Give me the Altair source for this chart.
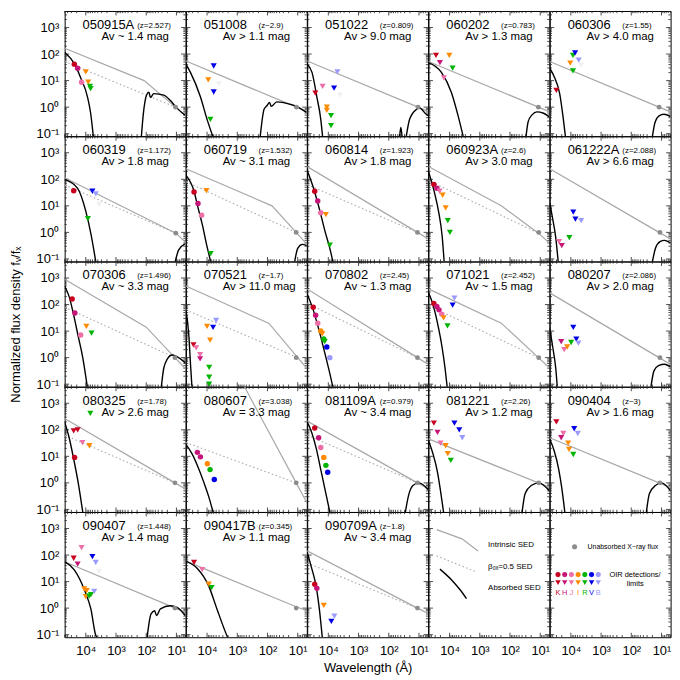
import altair as alt
import pandas as pd

FONT = "Liberation Sans"

NAMES = ["050915A", "051008", "051022", "060202", "060306",
         "060319", "060719", "060814", "060923A", "061222A",
         "070306", "070521", "070802", "071021", "080207",
         "080325", "080607", "081109A", "081221", "090404",
         "090407", "090417B", "090709A"]
ZTXT = ["(z=2.527)", "(z~2.9)", "(z=0.809)", "(z=0.783)", "(z=1.55)",
        "(z=1.172)", "(z=1.532)", "(z=1.923)", "(z=2.6)", "(z=2.088)",
        "(z=1.496)", "(z~1.7)", "(z=2.45)", "(z=2.452)", "(z=2.086)",
        "(z=1.78)", "(z=3.038)", "(z=0.979)", "(z=2.26)", "(z~3)",
        "(z=1.448)", "(z=0.345)", "(z~1.8)"]
AVTXT = ["Av ~ 1.4 mag", "Av > 1.1 mag", "Av > 9.0 mag", "Av > 1.3 mag", "Av > 4.0 mag",
         "Av > 1.8 mag", "Av ~ 3.1 mag", "Av > 1.8 mag", "Av > 3.0 mag", "Av > 6.6 mag",
         "Av ~ 3.3 mag", "Av > 11.0 mag", "Av ~ 1.3 mag", "Av ~ 1.5 mag", "Av > 2.0 mag",
         "Av > 2.6 mag", "Av = 3.3 mag", "Av ~ 3.4 mag", "Av > 1.2 mag", "Av > 1.6 mag",
         "Av > 1.4 mag", "Av > 1.1 mag", "Av ~ 3.4 mag"]

# all values as (log10 wavelength [A], log10 normalized flux)
INTR = {
    "050915A": [(4.7, 2.22), (2.07, 1.0), (1.03, 0.0), (0.7, -0.32)],
    "051008": [(4.7, 1.74), (1.04, 0.0), (0.7, -0.16)],
    "051022": [(4.7, 1.74), (1.03, 0.0), (0.7, -0.16)],
    "060202": [(4.7, 1.72), (1.06, 0.0), (0.7, -0.17)],
    "060306": [(4.7, 1.72), (1.08, 0.0), (0.7, -0.18)],
    "060319": [(4.7, 2.06), (1.02, -0.03), (0.7, -0.37)],
    "060719": [(4.7, 2.40), (1.85, 1.0), (1.05, 0.0), (0.7, -0.44)],
    "060814": [(4.7, 2.48), (1.05, 0.0), (0.7, -0.24)],
    "060923A": [(4.7, 2.48), (2.29, 1.0), (1.06, -0.03), (0.7, -0.4)],
    "061222A": [(4.7, 2.4), (1.08, 0.0), (0.7, -0.25)],
    "070306": [(4.7, 2.95), (2.0, 1.15), (1.05, 0.0), (0.7, -0.42)],
    "070521": [(4.7, 2.7), (1.95, 1.29), (1.0, 0.0), (0.7, -0.4)],
    "070802": [(4.7, 2.59), (1.05, 0.0), (0.7, -0.25)],
    "071021": [(4.7, 2.59), (2.29, 1.3), (1.06, 0.0), (0.7, -0.38)],
    "080207": [(4.7, 2.44), (1.08, 0.0), (0.7, -0.26)],
    "080325": [(4.7, 2.43), (1.05, 0.0), (0.7, -0.23)],
    "080607": [(2.76, 3.62), (1.05, 0.0), (0.7, -0.74)],
    "081109A": [(4.7, 2.33), (1.05, 0.0), (0.7, -0.22)],
    "081221": [(4.7, 1.66), (1.06, 0.0), (0.7, -0.16)],
    "090404": [(4.7, 1.7), (1.08, 0.0), (0.7, -0.18)],
    "090407": [(4.7, 1.75), (1.04, 0.0), (0.7, -0.16)],
    "090417B": [(4.7, 1.77), (1.05, 0.05), (0.7, -0.1)],
    "090709A": [(4.7, 2.16), (1.05, 0.0), (0.7, -0.2)],
}
BETA = {
    "050915A": [(4.7, 1.72), (1.03, 0.0)],
    "060319": [(4.7, 1.79), (1.02, -0.03)],
    "060719": [(4.7, 1.91), (1.05, 0.0)],
    "060814": [(4.7, 1.8), (1.05, 0.0)],
    "060923A": [(4.7, 1.96), (1.06, -0.03)],
    "070306": [(4.7, 1.9), (1.05, 0.0)],
    "070521": [(4.7, 1.8), (1.0, 0.0)],
    "070802": [(4.7, 2.05), (1.05, 0.0)],
    "071021": [(4.7, 1.96), (1.06, 0.0)],
    "080325": [(4.7, 1.8), (1.05, 0.0)],
    "080607": [(4.7, 1.52), (1.05, 0.0)],
    "081109A": [(4.7, 1.8), (1.05, 0.0)],
    "090709A": [(4.7, 1.7), (1.05, 0.0)],
}
OPT = {
    "050915A": [(4.7, 2.07), (4.37, 1.62), (4.17, 1.11), (3.94, 0.37), (3.84, -0.22), (3.75, -1.1)],
    "051008": [(4.7, 1.62), (4.55, 1.31), (4.22, 0.39), (4.0, -0.46), (3.81, -1.1)],
    "051022": [(4.7, 1.62), (4.54, 1.31), (4.38, 0.39), (4.25, -0.46), (4.19, -1.1)],
    "060202": [(4.7, 1.68), (4.27, 1.31), (3.94, 0.55), (3.72, -0.32), (3.55, -1.1)],
    "060306": [(4.7, 1.47), (4.54, 1.12), (4.37, 0.51), (4.26, -0.35), (4.18, -1.1)],
    "060319": [(4.7, 2.0), (4.27, 1.66), (4.0, 0.80), (3.83, -0.06), (3.67, -1.1)],
    "060719": [(4.7, 2.16), (4.43, 1.55), (4.30, 0.93), (4.16, 0.31), (4.0, -0.54), (3.88, -1.1)],
    "060814": [(4.7, 2.33), (4.5, 1.7), (4.3, 0.9), (4.1, 0.0), (3.95, -0.6), (3.85, -1.1)],
    "060923A": [(4.7, 2.3), (4.5, 1.5), (4.35, 0.7), (4.25, -0.1), (4.18, -1.1)],
    "061222A": [(4.7, 1.1), (4.6, 0.5), (4.5, -0.2), (4.42, -1.1)],
    "070306": [(4.7, 2.69), (4.55, 2.3), (4.4, 1.6), (4.25, 0.8), (4.1, 0.0), (3.95, -1.1)],
    "070521": [(4.7, 1.8), (4.6, 0.8), (4.55, -0.2), (4.5, -1.1)],
    "070802": [(4.7, 2.4), (4.5, 1.8), (4.3, 1.0), (4.1, 0.1), (3.95, -0.6), (3.85, -1.1)],
    "071021": [(4.7, 2.45), (4.55, 2.0), (4.4, 1.3), (4.25, 0.4), (4.15, -0.4), (4.08, -1.1)],
    "080207": [(4.7, 1.1), (4.6, 0.4), (4.5, -0.4), (4.45, -1.1)],
    "080325": [(4.7, 2.3), (4.55, 1.7), (4.4, 0.9), (4.25, 0.0), (4.1, -1.1)],
    "080607": [(4.7, 1.45), (4.5, 1.1), (4.3, 0.6), (4.1, 0.0), (3.95, -0.5), (3.8, -1.1)],
    "081109A": [(4.7, 2.3), (4.55, 1.9), (4.4, 1.3), (4.25, 0.5), (4.1, -0.3), (3.95, -1.1)],
    "081221": [(4.7, 1.6), (4.55, 1.1), (4.4, 0.4), (4.3, -0.3), (4.2, -1.1)],
    "090404": [(4.7, 1.65), (4.55, 1.2), (4.4, 0.5), (4.3, -0.2), (4.2, -1.1)],
    "090407": [(4.7, 1.75), (4.38, 1.44), (4.05, 0.70), (3.83, -0.04), (3.67, -1.02), (3.63, -1.1)],
    "090417B": [(4.7, 1.77), (4.33, 1.50), (3.94, 0.82), (3.67, -0.04), (3.35, -1.02), (3.32, -1.1)],
    "090709A": [(4.7, 2.1), (4.55, 1.5), (4.4, 0.8), (4.3, 0.0), (4.2, -1.1)],
}
XRAY = {
    "050915A": [[(2.16, -1.1), (2.10, -0.3), (1.99, 0.45), (1.91, 0.56), (1.86, 0.36), (1.75, 0.51),
                 (1.42, 0.45), (1.2, 0.25), (1.03, 0.02), (0.72, -0.3)]],
    "051008": [[(2.24, -1.1), (2.11, -0.07), (2.02, 0.05), (1.93, 0.18), (1.88, 0.03), (1.69, 0.2),
                (1.26, 0.11), (1.04, 0.03), (0.71, -0.2)]],
    "051022": [[(1.64, -1.1), (1.60, -0.77), (1.56, -1.1)],
               [(1.42, -1.1), (1.31, -0.46), (1.09, -0.09), (0.98, -0.03), (0.76, -0.27), (0.69, -0.32)]],
    "060202": [[(1.47, -1.1), (1.40, -0.55), (1.27, -0.29), (1.11, -0.18), (0.91, -0.22), (0.71, -0.36)]],
    "060306": [[(1.30, -1.1), (1.22, -0.6), (1.08, -0.33), (0.92, -0.27), (0.70, -0.36)]],
    "060319": [[(1.04, -1.1), (0.93, -0.67), (0.72, -0.43)]],
    "060719": [[(1.1, -1.1), (1.0, -0.6), (0.85, -0.45), (0.7, -0.5)]],
    "061222A": [[(1.3, -1.1), (1.2, -0.6), (1.05, -0.35), (0.9, -0.3), (0.7, -0.4)]],
    "070306": [[(1.5, -1.1), (1.42, -0.4), (1.3, -0.05), (1.15, 0.1), (1.0, 0.05), (0.7, -0.2)]],
    "080207": [[(1.35, -1.1), (1.25, -0.5), (1.1, -0.3), (0.9, -0.25), (0.7, -0.35)]],
    "081109A": [[(1.45, -1.1), (1.35, -0.5), (1.2, -0.1), (1.0, 0.0), (0.7, -0.25)]],
    "081221": [[(1.6, -1.1), (1.5, -0.4), (1.3, -0.1), (1.05, 0.0), (0.7, -0.3)]],
    "090404": [[(1.5, -1.1), (1.4, -0.4), (1.2, -0.1), (1.0, 0.0), (0.7, -0.3)]],
    "090407": [[(1.97, -1.1), (1.84, -0.22), (1.72, -0.10), (1.66, -0.28), (1.53, -0.03), (1.20, 0.09),
                (0.98, 0.03), (0.71, -0.28)]],
}
XPT = {n: (1.05, 0.0) for n in NAMES}
XPT.update({"050915A": (1.03, 0.0), "051008": (1.04, 0.0), "051022": (1.03, 0.0),
            "060202": (1.06, 0.0), "060306": (1.08, 0.0), "060319": (1.02, -0.03)})

# (band, d=detection / l=limit, log lambda, log flux)
OIR = {
    "050915A": [("K", "d", 4.38, 1.62), ("H", "d", 4.27, 1.47), ("J", "d", 4.14, 0.94),
                ("I", "l", 4.0, 1.33), ("I", "l", 3.92, 0.94), ("R", "l", 3.86, 0.78), ("R", "l", 3.84, 0.7)],
    "051008": [("V", "l", 3.78, 1.55), ("I", "l", 3.96, 1.03), ("W", "l", 3.61, 0.88),
               ("V", "l", 3.78, 0.57), ("R", "l", 3.89, -0.46)],
    "051022": [("B", "l", 3.70, 1.33), ("J", "l", 4.19, 0.78), ("K", "l", 4.43, 0.53), ("V", "l", 3.81, 0.72),
               ("W", "l", 3.61, 0.45), ("I", "l", 4.05, 0.0), ("I", "l", 4.05, -0.12),
               ("R", "l", 3.91, -0.32), ("R", "l", 3.91, -0.7)],
    "060202": [("K", "l", 4.45, 1.95), ("H", "l", 4.32, 1.68), ("I", "l", 4.01, 1.95),
               ("R", "l", 3.90, 1.47), ("J", "l", 4.19, 1.10)],
    "060306": [("K", "l", 4.48, 0.63), ("I", "l", 4.02, 1.66), ("R", "l", 3.93, 1.95), ("R", "l", 3.93, 1.37),
               ("V", "l", 3.86, 2.04), ("B", "l", 3.74, 1.77), ("W", "l", 3.66, 1.58)],
    "060319": [("K", "d", 4.40, 1.57), ("V", "l", 3.78, 1.55), ("B", "l", 3.67, 1.45),
               ("W", "l", 3.56, 1.05), ("R", "l", 3.93, 0.52)],
    "060719": [("K", "d", 4.43, 1.52), ("H", "d", 4.30, 1.09), ("J", "d", 4.18, 0.65),
               ("I", "l", 4.02, 1.57), ("R", "l", 3.88, -0.80)],
    "060814": [("K", "d", 4.45, 1.55), ("H", "d", 4.35, 1.18), ("J", "d", 4.25, 0.74),
               ("I", "l", 4.08, 0.67), ("R", "l", 3.95, -0.48)],
    "060923A": [("K", "d", 4.52, 1.81), ("H", "d", 4.42, 1.66), ("J", "l", 4.33, 1.55), ("I", "l", 4.23, 1.4),
                ("I", "l", 4.13, 0.92), ("R", "l", 4.06, 0.44), ("R", "l", 3.99, 0.0)],
    "061222A": [("V", "l", 3.92, 0.76), ("V", "l", 3.85, 0.5), ("B", "l", 3.66, 0.44), ("J", "l", 4.39, -0.35),
                ("H", "l", 4.3, -0.5), ("R", "l", 4.05, -0.2)],
    "070306": [("K", "d", 4.45, 2.21), ("H", "d", 4.36, 1.68), ("J", "d", 4.17, 0.85),
               ("I", "l", 3.98, 1.18), ("R", "l", 3.81, 0.92)],
    "070521": [("I", "l", 4.0, 1.18), ("I", "l", 3.9, 0.66), ("V", "l", 3.8, 1.14), ("B", "l", 3.7, 1.4),
               ("K", "l", 4.45, 0.48), ("J", "l", 4.36, 0.37), ("J", "l", 4.23, 0.11), ("H", "l", 4.23, -0.05),
               ("R", "l", 3.93, -0.37), ("R", "l", 3.93, -0.74), ("R", "l", 3.93, -1.0)],
    "070802": [("K", "d", 4.5, 1.9), ("H", "d", 4.42, 1.6), ("J", "d", 4.35, 1.3), ("I", "d", 4.25, 1.0),
               ("R", "d", 4.15, 0.7), ("V", "d", 4.05, 0.4), ("B", "d", 3.95, 0.0),
               ("I", "l", 4.2, 0.9), ("R", "l", 4.12, 0.6)],
    "071021": [("K", "d", 4.52, 2.04), ("H", "d", 4.42, 1.93), ("H", "d", 4.35, 1.8), ("J", "d", 4.26, 1.64),
               ("I", "l", 4.2, 1.5), ("R", "l", 4.07, 1.2), ("V", "l", 3.9, 1.98), ("B", "l", 3.84, 2.24)],
    "080207": [("V", "l", 3.92, 1.14), ("V", "l", 3.82, 0.7), ("B", "l", 3.75, 0.55), ("H", "l", 4.32, 0.6),
               ("J", "l", 4.22, 0.3), ("I", "l", 4.12, 0.4), ("R", "l", 3.99, 0.57)],
    "080325": [("K", "l", 4.4, 1.96), ("K", "l", 4.27, 2.0), ("J", "l", 4.11, 1.52), ("K", "d", 4.37, 0.96),
               ("I", "l", 3.88, 1.4), ("R", "l", 3.85, 2.62)],
    "080607": [("H", "d", 4.32, 1.15), ("H", "d", 4.22, 0.98), ("I", "d", 3.99, 0.72),
               ("R", "d", 3.9, 0.5), ("V", "d", 3.76, 0.13)],
    "081109A": [("K", "d", 4.45, 2.07), ("H", "d", 4.32, 1.7), ("J", "d", 4.25, 1.33), ("I", "d", 4.15, 0.96),
                ("R", "d", 4.08, 0.66), ("V", "d", 4.02, 0.4)],
    "081221": [("K", "l", 4.52, 2.25), ("H", "l", 4.4, 1.9), ("J", "l", 4.3, 1.5), ("V", "l", 3.84, 2.25),
               ("V", "l", 3.68, 2.0), ("B", "l", 3.58, 1.7), ("I", "l", 4.13, 1.4), ("I", "l", 4.06, 1.1),
               ("R", "l", 3.96, 0.85)],
    "090404": [("K", "l", 4.48, 2.3), ("J", "l", 4.25, 1.86), ("H", "l", 4.32, 1.7), ("V", "l", 3.89, 2.04),
               ("B", "l", 3.77, 1.86), ("I", "l", 4.09, 1.5), ("I", "l", 4.06, 1.26), ("R", "l", 3.92, 1.07)],
    "090407": [("J", "l", 4.14, 2.28), ("K", "l", 4.4, 1.88), ("H", "l", 4.27, 1.66), ("V", "l", 3.78, 1.94),
               ("B", "l", 3.67, 1.72), ("W", "l", 3.56, 1.38), ("I", "l", 4.05, 0.72), ("I", "l", 3.97, 0.66),
               ("I", "l", 4.0, 0.43), ("R", "l", 3.89, 0.45), ("R", "l", 3.83, 0.51), ("B", "l", 3.72, 0.63)],
    "090417B": [("K", "l", 4.43, 1.72), ("J", "l", 4.16, 1.45), ("I", "l", 3.94, 0.90), ("R", "l", 3.85, 0.77)],
    "090709A": [("K", "d", 4.45, 0.9), ("H", "d", 4.38, 0.75), ("I", "l", 4.15, 0.1),
                ("V", "l", 3.9, -0.5), ("B", "l", 3.8, -0.3)],
}

# legend panel sample curves
LEG_INTR = [(4.43, 2.96), (3.59, 2.61), (3.06, 2.15)]
LEG_BETA = [(4.43, 1.97), (3.11, 1.36)]
LEG_ABS = [(4.32, 1.47), (3.94, 1.07), (3.66, 0.70), (3.44, 0.36)]

BANDS = ["K", "H", "J", "I", "R", "V", "B", "W"]
BAND_COLORS = ["#c8001e", "#c8157a", "#ee6fa8", "#ff8a00", "#00b400", "#0000e6", "#9b9bff", "#f0f0f0"]

# ---------------------------------------------------------------- table
rows = []


def add_curve(panel, kind, pts, seg=0):
    for i, (l, f) in enumerate(pts):
        rows.append(dict(panel=panel, kind=kind, seg=seg, idx=i, lam=10 ** l, f=10 ** f,
                         band="", name="", z="", av=""))


for k, n in enumerate(NAMES):
    add_curve(n, "intr", INTR[n])
    if n in BETA:
        add_curve(n, "beta", BETA[n])
    add_curve(n, "abs", OPT[n], seg=0)
    for s, seg in enumerate(XRAY.get(n, [])):
        add_curve(n, "abs", seg, seg=s + 1)
    l, f = XPT[n]
    rows.append(dict(panel=n, kind="xpt", seg=0, idx=0, lam=10 ** l, f=10 ** f, band="", name="", z="", av=""))
    for (b, t, l, f) in OIR[n]:
        rows.append(dict(panel=n, kind="det" if t == "d" else "lim", seg=0, idx=0, lam=10 ** l, f=10 ** f,
                         band=b, name="", z="", av=""))
    rows.append(dict(panel=n, kind="title", seg=0, idx=0, lam=1.0, f=1.0, band="",
                     name=n, z=ZTXT[k], av=AVTXT[k]))
add_curve("LEG1", "intr", LEG_INTR)
add_curve("LEG1", "beta", LEG_BETA)
add_curve("LEG1", "abs", LEG_ABS)
df = pd.DataFrame(rows)

XMIN, XMAX = 5.0, 5e4
YMIN, YMAX = 0.08, 4200.0
tick_rows = []
for e in range(0, 5):
    for m in range(1, 10):
        v = m * 10 ** e
        if XMIN <= v <= XMAX:
            tick_rows.append(dict(ax="x", v=float(v), major=1 if m == 1 else 0))
for e in range(-2, 4):
    for m in range(1, 10):
        v = m * 10.0 ** e
        if YMIN <= v <= YMAX:
            tick_rows.append(dict(ax="y", v=float(v), major=1 if m == 1 else 0))
ticks = pd.DataFrame(tick_rows)

# ---------------------------------------------------------------- layout
W, H = 121.6, 126
XS = alt.Scale(type="log", domain=[XMIN, XMAX], reverse=True, nice=False)
YS = alt.Scale(type="log", domain=[YMIN, YMAX], nice=False)
XLAB = ("datum.value >= 5000 ? '10\u2074' : datum.value >= 500 ? '10\u00b3' : "
        "datum.value >= 50 ? '10\u00b2' : '10\u00b9'")
YLAB = ("datum.value >= 500 ? '10\u00b3' : datum.value >= 50 ? '10\u00b2' : "
        "datum.value >= 5 ? '10\u00b9' : datum.value >= 0.5 ? '10\u2070' : '10\u207b\u00b9'")
YTITLE = "Normalized flux density f\u1d65/f\u2093"
GRAY = "#a8a8a8"


def x_axis(c):
    kw = dict(values=[10, 100, 1000, 10000], labelExpr=XLAB, ticks=False, domain=False, grid=False,
              labelFontSize=13, labelPadding=7, labelOverlap=False, labelFlush=False, labelColor="black")
    if c == 2:
        kw.update(title="Wavelength (\u00c5)", titleFontSize=13, titleFontWeight="normal",
                  titlePadding=4, titleColor="black")
    else:
        kw.update(title=None)
    return alt.Axis(**kw)


def y_axis(r):
    kw = dict(values=[0.1, 1, 10, 100, 1000], labelExpr=YLAB, ticks=False, domain=False, grid=False,
              labelFontSize=13, labelPadding=6, labelOverlap=False, labelFlush=False, labelColor="black")
    if r == 2:
        kw.update(title=YTITLE, titleFontSize=13, titleFontWeight="normal", titlePadding=14,
                  titleColor="black")
    else:
        kw.update(title=None)
    return alt.Axis(**kw)


one = pd.DataFrame({"k": [0]})


def tick_layers(X, Y):
    tk = alt.Chart(ticks)
    out = []
    for major, ln in ((1, 4.5), (0, 2.2)):
        fx = tk.transform_filter((alt.datum.ax == "x") & (alt.datum.major == major))
        fy = tk.transform_filter((alt.datum.ax == "y") & (alt.datum.major == major))
        rule = dict(color="#222222", strokeWidth=0.8)
        out.append(fx.mark_rule(**rule).encode(x=X("v:Q"), y=alt.value(H), y2=alt.value(H - ln)))
        out.append(fx.mark_rule(**rule).encode(x=X("v:Q"), y=alt.value(0), y2=alt.value(ln)))
        out.append(fy.mark_rule(**rule).encode(y=Y("v:Q"), x=alt.value(0), x2=alt.value(ln)))
        out.append(fy.mark_rule(**rule).encode(y=Y("v:Q"), x=alt.value(W), x2=alt.value(W - ln)))
    return out


def make_panel(i, name):
    r, c = divmod(i, 5)
    xa = x_axis(c) if r == 4 else None
    ya = y_axis(r) if c == 0 else None

    def X(field):
        return alt.X(field, scale=XS, axis=xa)

    def Y(field):
        return alt.Y(field, scale=YS, axis=ya)

    layers = tick_layers(X, Y)
    b = alt.Chart(df).transform_filter(alt.datum.panel == name)
    colr = alt.Color("band:N", scale=alt.Scale(domain=BANDS, range=BAND_COLORS), legend=None)
    layers.append(b.transform_filter(alt.datum.kind == "intr").mark_line(
        color=GRAY, strokeWidth=1.2, clip=True).encode(x=X("lam:Q"), y=Y("f:Q"), order="idx:Q", detail="seg:N"))
    layers.append(b.transform_filter(alt.datum.kind == "beta").mark_line(
        color=GRAY, strokeWidth=1.1, strokeDash=[1.5, 2.5], clip=True).encode(
        x=X("lam:Q"), y=Y("f:Q"), order="idx:Q", detail="seg:N"))
    layers.append(b.transform_filter(alt.datum.kind == "abs").mark_line(
        color="black", strokeWidth=1.4, clip=True, interpolate="monotone").encode(
        x=X("lam:Q"), y=Y("f:Q"), order="idx:Q", detail="seg:N"))
    if name.startswith("LEG"):
        if name == "LEG1":
            for txt, yy in (("Intrinsic SED", 33), ("\u03b2\u2092\u2093=0.5 SED", 55), ("Absorbed SED", 76)):
                layers.append(alt.Chart(one).mark_text(text=txt, align="left", baseline="middle",
                                                       fontSize=8, color="black").encode(
                    x=alt.value(60), y=alt.value(yy)))
        else:
            layers.append(alt.Chart(one).mark_point(shape="circle", filled=True, size=26, opacity=1,
                                                    color="#8c8c8c").encode(x=alt.value(25), y=alt.value(35)))
            layers.append(alt.Chart(one).mark_text(text="Unabsorbed X\u2212ray flux", align="left",
                                                   baseline="middle", fontSize=7, color="black").encode(
                x=alt.value(38), y=alt.value(35)))
            for j, (bnd, col) in enumerate(zip(BANDS[:7], BAND_COLORS[:7])):
                px = 8.3 + 6.75 * j
                layers.append(alt.Chart(one).mark_point(shape="circle", filled=True, size=26, opacity=1,
                                                        color=col).encode(x=alt.value(px), y=alt.value(63)))
                layers.append(alt.Chart(one).mark_point(shape="triangle-down", filled=True, size=30, opacity=1,
                                                        color=col).encode(x=alt.value(px), y=alt.value(71)))
                layers.append(alt.Chart(one).mark_text(text=bnd, align="center", baseline="middle",
                                                       fontSize=7.5, color=col).encode(
                    x=alt.value(px), y=alt.value(82)))
            layers.append(alt.Chart(one).mark_text(text="OIR detections/", align="left", baseline="middle",
                                                   fontSize=7.5, color="black").encode(
                x=alt.value(60), y=alt.value(63)))
            layers.append(alt.Chart(one).mark_text(text="limits", align="center", baseline="middle",
                                                   fontSize=7.5, color="black").encode(
                x=alt.value(86), y=alt.value(72)))
    else:
        layers.append(b.transform_filter(alt.datum.kind == "xpt").mark_point(
            shape="circle", filled=True, size=24, opacity=1, color="#8c8c8c").encode(x=X("lam:Q"), y=Y("f:Q")))
        layers.append(b.transform_filter(alt.datum.kind == "det").mark_point(
            shape="circle", filled=True, size=30, opacity=1, clip=True).encode(x=X("lam:Q"), y=Y("f:Q"), color=colr))
        layers.append(b.transform_filter(alt.datum.kind == "lim").mark_point(
            shape="triangle-down", filled=True, size=38, opacity=1, clip=True).encode(
            x=X("lam:Q"), y=Y("f:Q"), color=colr))
        t = b.transform_filter(alt.datum.kind == "title")
        layers.append(t.mark_text(align="left", baseline="alphabetic", fontSize=13, color="black").encode(
            x=alt.value(18), y=alt.value(18), text="name:N"))
        layers.append(t.mark_text(align="left", baseline="alphabetic", fontSize=8, color="black").encode(
            x=alt.value(73), y=alt.value(17), text="z:N"))
        layers.append(t.mark_text(align="left", baseline="alphabetic", fontSize=11.5, color="black").encode(
            x=alt.value(37), y=alt.value(29), text="av:N"))
    return alt.layer(*layers).properties(width=W, height=H)


PANELS = NAMES + ["LEG1", "LEG2"]
panels = [make_panel(i, p) for i, p in enumerate(PANELS)]

chart = alt.concat(*panels, columns=5, spacing=0, bounds="flush").properties(
    padding={"left": 0, "top": 0, "right": 0, "bottom": 0}
).configure(font=FONT).configure_view(stroke="black", strokeWidth=1)

chart.save("out.html", embed_options={"renderer": "svg", "actions": False})
